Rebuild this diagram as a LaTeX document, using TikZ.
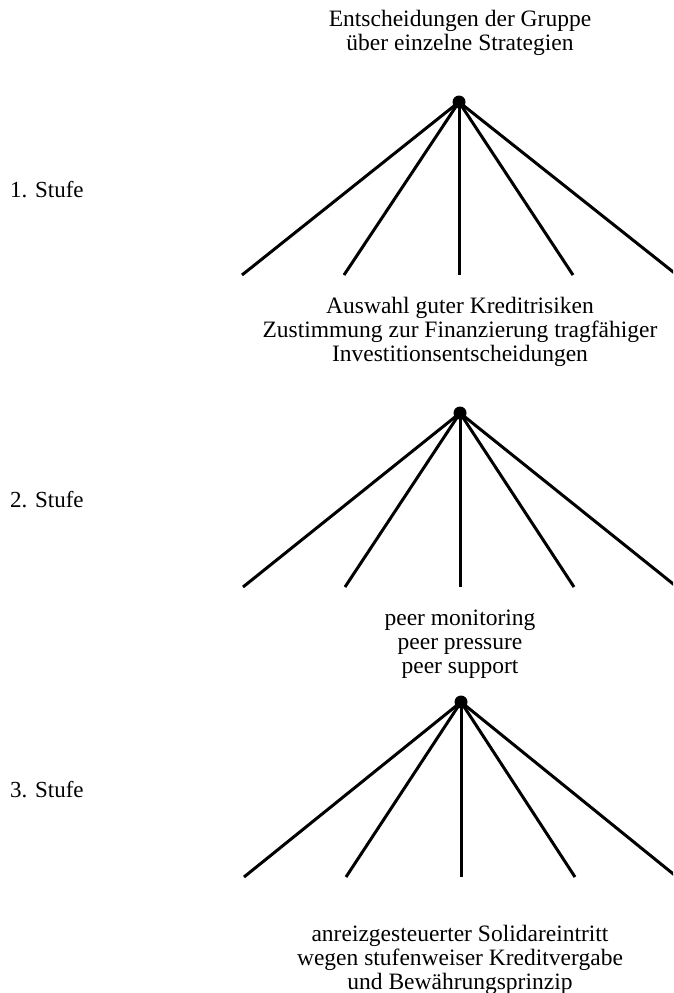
\documentclass[tikz,border=0pt]{standalone}
\usepackage{fontspec}
\setmainfont{Liberation Serif}
\begin{document}
\begin{tikzpicture}[x=1pt,y=-1pt,
  txt/.style={align=center,font=\fontsize{23.5}{24}\selectfont,inner sep=0pt},
  lbl/.style={anchor=west,font=\fontsize{23}{24}\selectfont,inner sep=0pt},
  apex/.style={circle,fill=black,minimum size=13pt,inner sep=0pt},
  branch/.style={line width=3pt}]
\useasboundingbox (0,0) rectangle (673,993);
\begin{scope}
\clip (0,0) rectangle (673,993);
% texts
\node[txt] (t0) at (460,33) {Entscheidungen der Gruppe\\über einzelne Strategien};
\node[txt] (t1) at (460,332) {Auswahl guter Kreditrisiken\\Zustimmung zur Finanzierung tragfähiger\\Investitionsentscheidungen};
\node[txt] (t2) at (460,644) {peer monitoring\\peer pressure\\peer support};
\node[txt] (t3) at (460,960) {anreizgesteuerter Solidareintritt\\wegen stufenweiser Kreditvergabe\\und Bewährungsprinzip};
\node[lbl] (s1) at (10,190) {1. Stufe};
\node[lbl] (s2) at (10,500) {2. Stufe};
\node[lbl] (s3) at (10,790) {3. Stufe};
% fan 1
\node[apex] (a1) at (459,102) {};
\coordinate (e11) at (242,275);
\coordinate (e12) at (344,275);
\coordinate (e13) at (459,275);
\coordinate (e14) at (573,275);
\coordinate (e15) at (677,275);
\foreach \i in {1,...,5} \draw[branch] (a1.center) -- (e1\i);
% fan 2
\node[apex] (a2) at (460,413) {};
\coordinate (e21) at (243,587);
\coordinate (e22) at (345,587);
\coordinate (e23) at (460,587);
\coordinate (e24) at (574,587);
\coordinate (e25) at (677,587);
\foreach \i in {1,...,5} \draw[branch] (a2.center) -- (e2\i);
% fan 3
\node[apex] (a3) at (461,702) {};
\coordinate (e31) at (244,877);
\coordinate (e32) at (346,877);
\coordinate (e33) at (461,877);
\coordinate (e34) at (575,877);
\coordinate (e35) at (677,877);
\foreach \i in {1,...,5} \draw[branch] (a3.center) -- (e3\i);
\end{scope}
\end{tikzpicture}
\end{document}
